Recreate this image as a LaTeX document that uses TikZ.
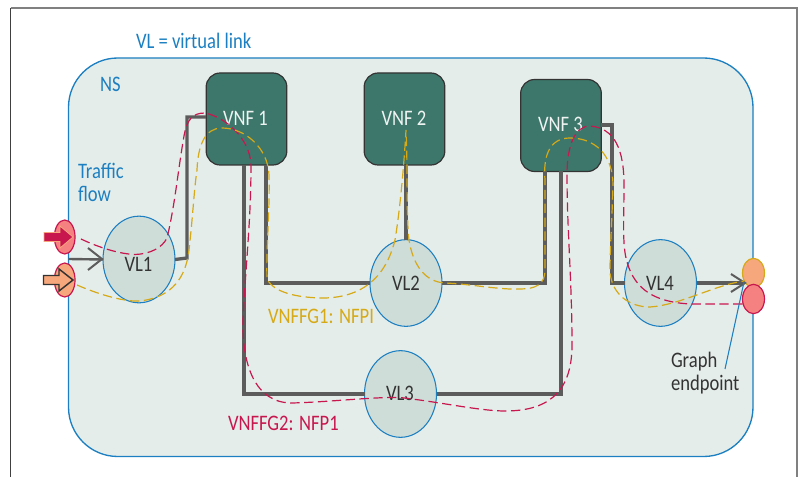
\documentclass[tikz,border=0pt]{standalone}
\usepackage{fontspec}
\setmainfont[FakeStretch=0.84]{Carlito}
\usetikzlibrary{arrows.meta}
\usetikzlibrary{shapes.geometric}
\definecolor{nsfill}{HTML}{E5EDEA}
\definecolor{nsblue}{HTML}{1B7FC1}
\definecolor{vnfgreen}{HTML}{3D776B}
\definecolor{vlfill}{HTML}{CFDDD9}
\definecolor{linkgray}{HTML}{5C5C5C}
\definecolor{nfpred}{HTML}{C8174F}
\definecolor{nfpyel}{HTML}{D6A916}
\definecolor{endred}{HTML}{F58280}
\definecolor{endora}{HTML}{F6A77C}
\tikzset{
 x=0.75pt,y=-0.75pt,
 every node/.style={inner sep=0pt,outer sep=0pt,font=\fontsize{16.6}{17.2}\selectfont},
 vnf/.style={draw=black!80,line width=0.9pt,fill=vnfgreen,rounded corners=10.5pt,minimum width=60.5pt,minimum height=69pt},
 vl/.style={draw=nsblue,line width=0.8pt,fill=vlfill,ellipse,minimum width=54pt,minimum height=65pt,text=black!80},
 link/.style={draw=linkgray,line width=2.5pt},
 redpath/.style={draw=nfpred,line width=0.9pt,dash pattern=on 7pt off 3.4pt},
 yelpath/.style={draw=nfpyel,line width=0.9pt,dash pattern=on 7pt off 3.4pt},
 vnflabel/.style={text=white!92!vnfgreen},
 vllabel/.style={text=black!80},
}
\begin{document}
\begin{tikzpicture}
\useasboundingbox (0,0) rectangle (801,477);
\draw[draw=gray,line width=1pt] (10.5,8) -- (797,8) -- (797,477);
\draw[draw=black!75,line width=0.8pt] (10.5,8) -- (10.5,477);
\node[text=nsblue,anchor=west] (title) at (136,41) {VL = virtual link};
\draw[draw=nsblue,line width=1pt,fill=nsfill,rounded corners=37pt] (68.5,58) rectangle (753,456.5);
\node[text=nsblue,anchor=west] (nslabel) at (100,84) {NS};
\node[text=nsblue,anchor=north west,align=left] (traffic) at (78,163.5) {Traffic\\flow};

\node[vl] (vl1) at (139,259.5) {};
\node[vl] (vl2) at (406,283) {};
\node[vl] (vl3) at (400.5,394) {};
\node[vl] (vl4) at (660.5,283) {};
\node[vnf] (vnf1) at (246.5,119) {};
\node[vnf] (vnf2) at (404.5,119) {};
\node[vnf] (vnf3) at (561,125.5) {};

\draw[link] (vl1.east) -- (187,258) -- (187,117) -- (vnf1.west |- 0,117);
\draw[link] (244,165) -- (244,394) -- (vl3.west);
\draw[link] (vl3.east) -- (561,394) -- (561,171);
\draw[link] (266,165) -- (266,283) -- (vl2.west);
\draw[link] (vl2.north) -- (406,165);
\draw[link] (vl2.east) -- (545,283) -- (545,171);
\draw[link] (vnf3.east |- 0,125) -- (612,125) -- (612,283) -- (vl4.west);

\node[vnflabel] (vnf1t) at (245.5,118) {VNF 1};
\node[vnflabel] (vnf2t) at (404,118) {VNF 2};
\node[vnflabel] (vnf3t) at (560.5,124) {VNF 3};
\node[vllabel] (vl1t) at (138.5,264) {VL1};
\node[vllabel] (vl2t) at (406,283) {VL2};
\node[vllabel] (vl3t) at (400,393) {VL3};
\node[vllabel] (vl4t) at (660,283) {VL4};

\node[draw=nfpred,line width=0.9pt,fill=endred,ellipse,minimum width=15.5pt,minimum height=25.5pt] (inred) at (64.7,237) {};
\node[draw=nfpred,line width=0.9pt,fill=endora,ellipse,minimum width=15.5pt,minimum height=25.5pt] (inora) at (64.7,280) {};
\node[draw=nfpyel,line width=0.9pt,fill=endora,ellipse,minimum width=16.5pt,minimum height=22pt] (outora) at (753.5,273) {};
\node[draw=nfpred,line width=0.9pt,fill=endred,ellipse,minimum width=16.5pt,minimum height=22pt] (outred) at (753.5,299) {};

\draw[fill=nfpred,draw=endora,line width=0.6pt] (44,232.5) -- (60,232.5) -- (60,226) -- (73,237) -- (60,248) -- (60,241.5) -- (44,241.5) -- cycle;
\draw[fill=endora,draw=black!80,line width=1.1pt] (43.5,275.5) -- (59,275.5) -- (59,269) -- (73,280) -- (59,291) -- (59,284.5) -- (43.5,284.5) -- cycle;

\coordinate (insrc) at (68.5,259);
\draw[linkgray,line width=1.8pt] (insrc) -- (vl1.west);
\draw[linkgray,line width=1.5pt] (88,248) -- (102,259) -- (88,270);
\draw[link] (vl4.east) -- (744,283);
\draw[linkgray,line width=1.5pt] (731,274) -- (745,283) -- (731,292);

\draw[redpath] (81,239) .. controls (100,248) and (120,254) .. (135,254.5)
 .. controls (150,254) and (162,248) .. (167,238)
 .. controls (175,205) and (178,170) .. (184,136)
 .. controls (187,120) and (192,113) .. (205,113)
 .. controls (225,117) and (250,138) .. (251,165)
 .. controls (251,220) and (246,260) .. (243,320)
 .. controls (242,365) and (255,403) .. (292,403)
 .. controls (330,402) and (370,397) .. (400,397.5)
 .. controls (440,402) and (480,411) .. (505,411)
 .. controls (545,411) and (572,395) .. (572,345)
 .. controls (572,280) and (567,230) .. (567,175)
 .. controls (567,145) and (575,126) .. (590,126)
 .. controls (615,128) and (624,150) .. (624,185)
 .. controls (624,220) and (622,245) .. (627,262)
 .. controls (635,290) and (655,302) .. (690,304)
 -- (744,304);
\draw[yelpath] (77,285) .. controls (100,295) and (125,302) .. (140,301)
 .. controls (165,298) and (185,285) .. (189,250)
 .. controls (193,215) and (194,190) .. (197,170)
 .. controls (198,145) and (205,128) .. (222,128)
 .. controls (245,128) and (268,148) .. (269,175)
 .. controls (270,210) and (266,250) .. (267,279)
 .. controls (275,295) and (305,298) .. (325,298)
 .. controls (360,297) and (385,280) .. (395,240)
 .. controls (400,210) and (404,165) .. (406,130)
 .. controls (408,170) and (406,215) .. (409,240)
 .. controls (413,265) and (425,282) .. (445,283)
 .. controls (470,284) and (500,290) .. (520,289)
 .. controls (535,289) and (545,285) .. (545,270)
 -- (545,180)
 .. controls (543,155) and (550,138) .. (570,138)
 .. controls (595,138) and (613,155) .. (613,185)
 .. controls (612,220) and (610,250) .. (610,272)
 .. controls (612,295) and (630,307) .. (650,307)
 .. controls (680,305) and (715,285) .. (744,281);

\coordinate (leadertop) at (744,282);
\coordinate (leaderfoot) at (725,369);
\draw[nsblue,line width=0.8pt] (leaderfoot) -- (leadertop);

\node[text=nfpyel,anchor=west] (nfp1) at (268,316) {VNFFG1: NFPI};
\node[text=nfpred,anchor=west] (nfp2) at (228,423) {VNFFG2: NFP1};
\node[text=black!80,anchor=north west,align=left] (ge) at (671,352) {Graph\\endpoint};
\end{tikzpicture}
\end{document}
